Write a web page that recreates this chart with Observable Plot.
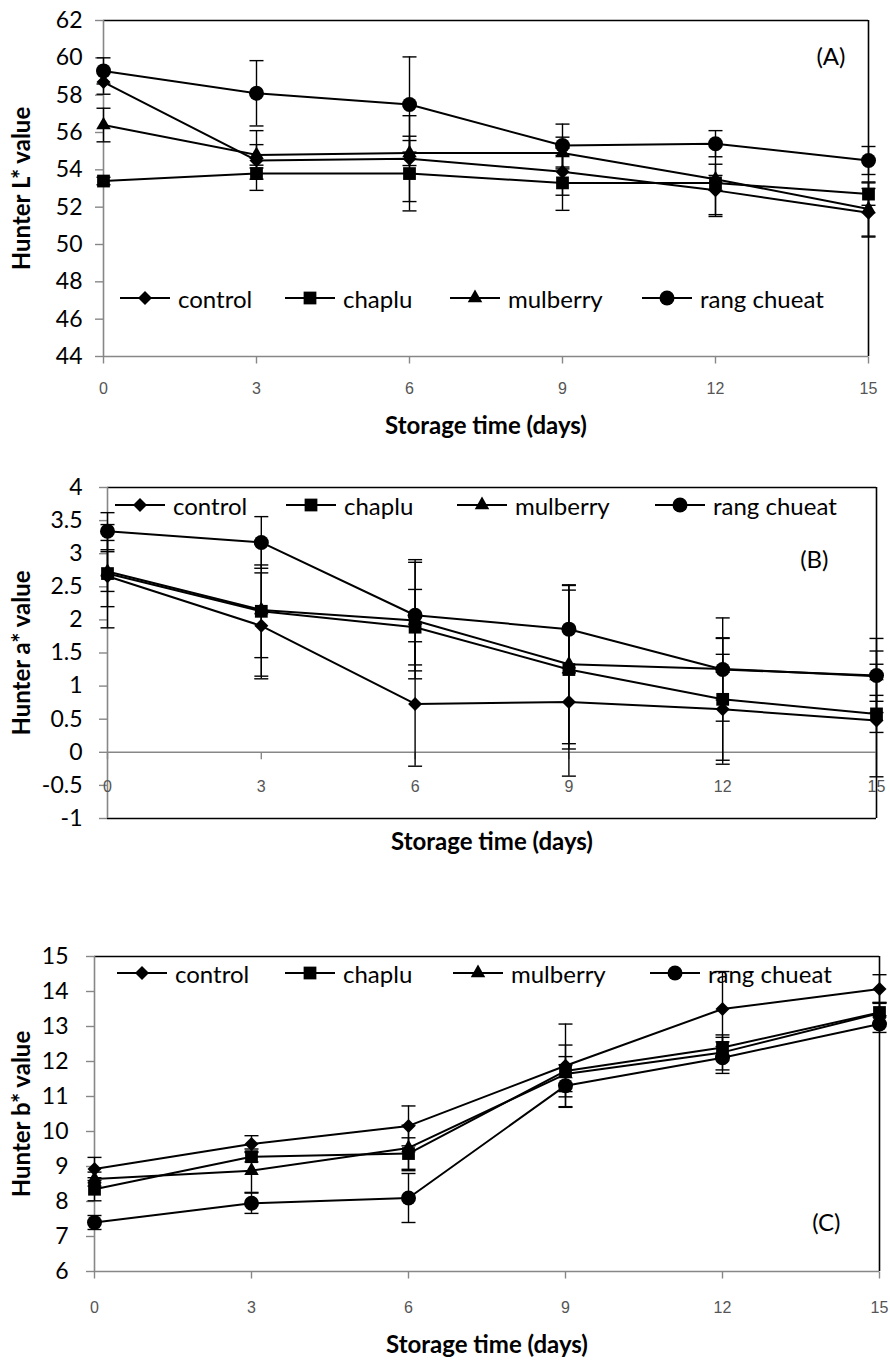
<!DOCTYPE html>
<html>
<head>
<meta charset="utf-8">
<script src="https://cdn.jsdelivr.net/npm/d3@7"></script>
<script src="https://cdn.jsdelivr.net/npm/@observablehq/plot@0.6"></script>
<style>
  body { margin: 0; background: #fff; }
  #wrap { position: relative; width: 890px; height: 1365px; overflow: hidden; background: #fff; }
  .panel { position: relative; width: 890px; }
  .panel svg { display: block; }
  .item { position: absolute; display: flex; align-items: center; font-family: Lato, sans-serif; font-size: 24px; color: #000; white-space: nowrap; }
  .item span { margin-left: 8px; }
</style>
</head>
<body>
<div id="wrap"></div>
<script>
// Storage days and treatments
const days = [0, 3, 6, 9, 12, 15];
const treatments = ["control", "chaplu", "mulberry", "rang chueat"];
const symbols = ["diamond2", "square", "triangle", "circle"];

// Hunter L* (rows follow treatments order)
const lMean = [
  [58.7, 54.5, 54.6, 53.9, 52.9, 51.7],
  [53.4, 53.8, 53.8, 53.3, 53.3, 52.7],
  [56.4, 54.8, 54.9, 54.9, 53.5, 51.9],
  [59.3, 58.1, 57.5, 55.3, 55.4, 54.5]
];
const lSd = [
  [0.65, 1.6, 2.3, 1.26, 1.4, 1.3],
  [0.2, 0.3, 2.0, 1.47, 0.4, 0.6],
  [0.9, 0.55, 0.67, 0.85, 1.9, 1.45],
  [0.7, 1.75, 2.55, 1.15, 0.7, 0.75]
];
const lTicks = [44, 46, 48, 50, 52, 54, 56, 58, 60, 62];

// Hunter a*
const aMean = [
  [2.66, 1.91, 0.73, 0.76, 0.65, 0.48],
  [2.70, 2.13, 1.89, 1.25, 0.80, 0.58],
  [2.73, 2.15, 1.99, 1.33, 1.26, 1.15],
  [3.34, 3.17, 2.07, 1.86, 1.25, 1.16]
];
const aSd = [
  [0.78, 0.8, 0.94, 1.12, 0.83, 0.85],
  [0.5, 0.7, 0.57, 1.2, 0.92, 0.28],
  [0.3, 1.0, 0.88, 1.2, 0.47, 0.38],
  [0.28, 0.39, 0.84, 0.66, 0.78, 0.56]
];
const aTicks = [-1, -0.5, 0, 0.5, 1, 1.5, 2, 2.5, 3, 3.5, 4];

// Hunter b*
const bMean = [
  [8.93, 9.64, 10.16, 11.88, 13.5, 14.07],
  [8.35, 9.28, 9.37, 11.73, 12.4, 13.4],
  [8.64, 8.88, 9.53, 11.64, 12.26, 13.38],
  [7.40, 7.95, 8.10, 11.31, 12.11, 13.07]
];
const bSd = [
  [0.33, 0.24, 0.57, 1.19, 1.07, 0.41],
  [0.33, 0.15, 0.45, 0.74, 0.29, 0.29],
  [0.2, 0.62, 0.65, 0.5, 0.5, 0.3],
  [0.2, 0.29, 0.7, 0.6, 0.45, 0.24]
];
const bTicks = [6, 7, 8, 9, 10, 11, 12, 13, 14, 15];

const xTitle = "Storage time (days)";

const axisGray = "#878787";
const markerR = [6.3, 7.2, 5.4, 7.5];
const narrowFont = "Liberation Sans Narrow, Liberation Sans, sans-serif";

// Horizontal cap for the error bars, and a short downward tick for the day axis
const capSymbol = { draw(ctx) { ctx.moveTo(-7, 0); ctx.lineTo(7, 0); } };
const dayTick = { draw(ctx) { ctx.moveTo(0, 0); ctx.lineTo(0, 7); } };

function toRows(means, sds) {
  return treatments.flatMap((t, i) =>
    days.map((d, j) => ({ treatment: t, day: d, mean: means[i][j], sd: sds[i][j] }))
  );
}

function seriesMarks(rows) {
  return treatments.flatMap((t, i) => {
    const r = rows.filter(d => d.treatment === t);
    return [
      Plot.ruleX(r, { x: "day", y1: d => d.mean - d.sd, y2: d => d.mean + d.sd, stroke: "black", strokeWidth: 1.4 }),
      Plot.dot(r, { x: "day", y: d => d.mean + d.sd, symbol: capSymbol, fill: "none", stroke: "black", strokeWidth: 1.4 }),
      Plot.dot(r, { x: "day", y: d => d.mean - d.sd, symbol: capSymbol, fill: "none", stroke: "black", strokeWidth: 1.4 }),
      Plot.line(r, { x: "day", y: "mean", stroke: "black", strokeWidth: 2 }),
      Plot.dot(r, { x: "day", y: "mean", symbol: symbols[i], r: markerR[i], fill: "black", stroke: "none" })
    ];
  });
}

function makePanel(cfg) {
  const [yMin, yMax] = [cfg.ticks[0], cfg.ticks[cfg.ticks.length - 1]];
  const rows = toRows(cfg.mean, cfg.sd);
  const crossing = cfg.crossing; // value where the day axis crosses
  const atBottom = crossing === yMin;
  const marks = [
    // frame: grey axes, black top/right border
    Plot.ruleY([yMax], { stroke: "black", strokeWidth: 1.6 }),
    Plot.ruleX([15], { stroke: "black", strokeWidth: 1.6 }),
    Plot.ruleY([yMin], { stroke: atBottom ? axisGray : "black", strokeWidth: 1.6 }),
    atBottom ? null : Plot.ruleY([crossing], { stroke: axisGray, strokeWidth: 1.4 }),
    Plot.ruleX([0], { stroke: axisGray, strokeWidth: 1.6 }),
    Plot.axisY({
      ticks: cfg.ticks, tickSize: 8, tickPadding: cfg.tickPadding, stroke: axisGray, strokeWidth: 1.4,
      fill: "black", fontSize: 23, fontFamily: "Lato", label: null,
      tickFormat: d => String(d)
    }),
    // day ticks and labels
    atBottom
      ? Plot.dot(days, { x: d => d, frameAnchor: "bottom", symbol: dayTick, fill: "none", stroke: axisGray, strokeWidth: 1.4 })
      : Plot.dot(days, { x: d => d, y: () => crossing, symbol: dayTick, fill: "none", stroke: axisGray, strokeWidth: 1.4 }),
    atBottom
      ? Plot.text(days, { x: d => d, frameAnchor: "bottom", lineAnchor: "middle", dy: cfg.dayLabelDy, text: d => String(d), fill: "#555", fontSize: 16, fontFamily: narrowFont })
      : Plot.text(days, { x: d => d, y: () => crossing, lineAnchor: "middle", dy: cfg.dayLabelDy, text: d => String(d), fill: "#555", fontSize: 16, fontFamily: narrowFont }),
    ...seriesMarks(rows),
    // titles and panel tag
    Plot.text([cfg.yTitle], { frameAnchor: "left", rotate: -90, dx: cfg.yTitleDx, textAnchor: "middle", lineAnchor: "middle", text: d => d, fontWeight: "bold", fontSize: 24, fontFamily: "Lato" }),
    Plot.text([xTitle], { frameAnchor: "bottom", dy: cfg.xTitleDy, textAnchor: "middle", lineAnchor: "middle", text: d => d, fontWeight: "bold", fontSize: 24, fontFamily: "Lato" }),
    Plot.text([cfg.tag], { frameAnchor: cfg.tagAnchor, dx: cfg.tagDx, dy: cfg.tagDy, textAnchor: "end", lineAnchor: "middle", text: d => d, fontSize: 24, fontFamily: "Lato" })
  ].filter(Boolean);

  const svg = Plot.plot({
    width: 890,
    height: cfg.height,
    marginTop: cfg.margin[0],
    marginRight: cfg.margin[1],
    marginBottom: cfg.margin[2],
    marginLeft: cfg.margin[3],
    x: { domain: [0, 15], axis: null },
    y: { domain: [yMin, yMax], axis: null },
    style: { fontFamily: "Lato", color: "black", background: "white", overflow: "visible" },
    marks
  });

  const div = document.createElement("div");
  div.className = "panel";
  div.style.height = cfg.height + "px";
  div.appendChild(svg);

  // legend laid over the plot area
  const typeMap = { diamond2: d3.symbolDiamond2, square: d3.symbolSquare, triangle: d3.symbolTriangle, circle: d3.symbolCircle };
  treatments.forEach((t, i) => {
    const item = document.createElement("div");
    item.className = "item";
    item.style.left = cfg.legendLeft[i] + "px";
    item.style.top = (cfg.legendY - 15) + "px";
    item.style.height = "30px";
    const sz = Math.PI * markerR[i] * markerR[i];
    const path = d3.symbol(typeMap[symbols[i]], sz)();
    item.innerHTML =
      `<svg width="50" height="30" style="overflow:visible"><line x1="0" x2="50" y1="15" y2="15" stroke="black" stroke-width="2"/>` +
      `<path d="${path}" transform="translate(25,15)" fill="black"/></svg><span>${t}</span>`;
    div.appendChild(item);
  });
  return div;
}

const wrap = document.getElementById("wrap");

wrap.appendChild(makePanel({
  height: 440, margin: [20, 22, 84, 103],
  ticks: lTicks, mean: lMean, sd: lSd, crossing: 44,
  tickPadding: 13, dayLabelDy: 32, xTitleDy: 70, yTitleDx: -81,
  yTitle: "Hunter L* value", tag: "(A)", tagAnchor: "top-right", tagDx: -23, tagDy: 37,
  legendY: 298, legendLeft: [120, 285, 450, 642]
}));

wrap.appendChild(makePanel({
  height: 420, margin: [47, 14, 42, 107],
  ticks: aTicks, mean: aMean, sd: aSd, crossing: 0,
  tickPadding: 17, dayLabelDy: 35, xTitleDy: 24, yTitleDx: -85,
  yTitle: "Hunter a* value", tag: "(B)", tagAnchor: "top-right", tagDx: -48, tagDy: 73,
  legendY: 65, legendLeft: [115, 286, 457, 655]
}));

wrap.appendChild(makePanel({
  height: 505, margin: [96, 11, 94, 94],
  ticks: bTicks, mean: bMean, sd: bSd, crossing: 6,
  tickPadding: 18, dayLabelDy: 36, xTitleDy: 74, yTitleDx: -72,
  yTitle: "Hunter b* value", tag: "(C)", tagAnchor: "bottom-right", tagDx: -39, tagDy: -48,
  legendY: 113, legendLeft: [117, 285, 453, 650]
}));
</script>
</body>
</html>
